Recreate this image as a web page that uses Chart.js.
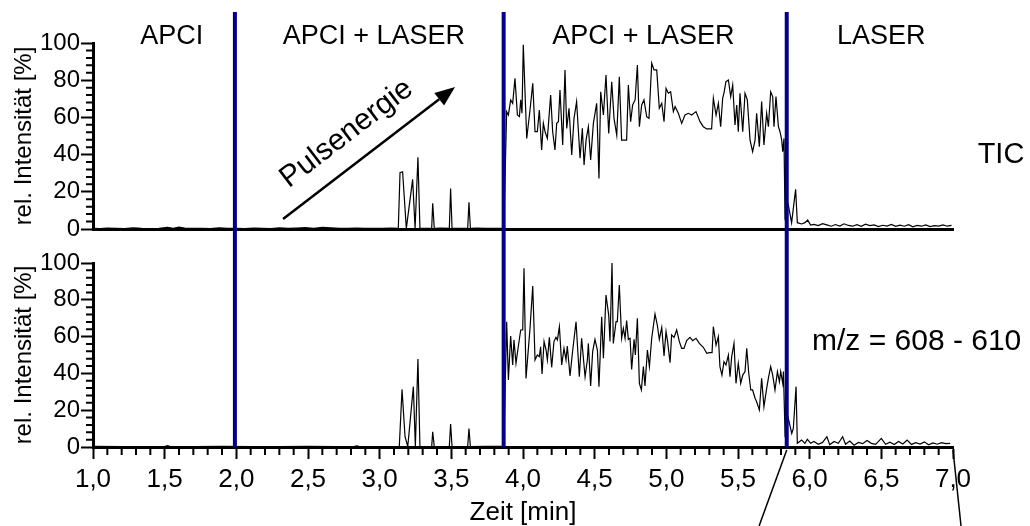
<!DOCTYPE html>
<html>
<head>
<meta charset="utf-8">
<script src="https://cdn.jsdelivr.net/npm/chart.js@4.4.1/dist/chart.umd.min.js"></script>
<style>
  html, body { margin: 0; padding: 0; background: #fff; overflow: hidden; }
  #wrap { position: relative; width: 1030px; height: 526px; }
  canvas { position: absolute; left: 0; }
  #tic { top: 0; }
  #mz { top: 246px; }
</style>
</head>
<body>
<div id="wrap">
  <canvas id="tic" width="1030" height="246"></canvas>
  <canvas id="mz" width="1030" height="280"></canvas>
</div>
<script>
// ---- Total ion current (TIC), retention time [min] and relative intensity [%]
const ticTime = [
  1.00,1.05,1.10,1.16,1.22,1.28,1.34,1.40,1.46,1.52,
  1.56,1.60,1.64,1.70,1.76,1.82,1.88,1.94,2.00,2.06,
  2.12,2.18,2.24,2.30,2.36,2.42,2.48,2.54,2.60,2.66,
  2.72,2.78,2.84,2.90,2.96,3.02,3.08,3.13,
  3.142,3.160,3.186,3.230,3.247,3.267,3.281,3.320,3.363,3.370,
  3.381,3.430,3.486,3.495,3.505,3.560,3.614,3.623,3.633,3.680,
  3.740,3.800,3.866,
  3.886,3.898,3.914,3.928,3.944,3.961,3.975,3.984,3.993,4.002,
  4.026,4.049,4.068,4.084,4.100,4.114,4.130,4.142,4.154,4.170,
  4.193,4.207,4.223,4.235,4.247,4.258,4.277,4.293,4.305,4.321,
  4.340,4.356,4.374,4.398,4.414,4.426,4.440,4.456,4.472,4.491,
  4.514,4.530,4.542,4.561,4.579,4.598,4.619,4.635,4.654,4.672,
  4.688,4.705,4.723,4.735,4.751,4.765,4.782,4.798,4.812,4.828,
  4.844,4.863,4.879,4.898,4.914,4.933,4.951,4.968,4.984,4.998,
  5.014,5.030,5.049,5.061,5.084,5.107,5.130,5.154,5.177,5.207,
  5.235,5.258,5.282,5.316,5.328,5.347,5.363,5.379,5.393,5.402,
  5.416,5.433,5.449,5.463,5.479,5.491,5.502,5.514,5.533,5.549,
  5.565,5.584,5.602,5.619,5.630,5.649,5.665,5.681,5.700,5.712,
  5.728,5.742,5.751,5.765,5.782,5.793,5.805,5.812,5.821,5.828,
  5.851,5.874,5.902,5.914,5.944,5.967,5.986,6.007,6.030,6.060,
  6.09,6.12,6.15,6.18,6.21,6.24,6.27,6.30,6.33,6.36,
  6.39,6.42,6.45,6.48,6.51,6.54,6.57,6.60,6.63,6.66,
  6.69,6.72,6.75,6.78,6.81,6.84,6.87,6.90,6.93,6.96,6.99
];
const ticIntensity = [
  0.4,0.2,0.5,0.3,0.2,0.6,0.3,0.2,0.3,0.9,
  0.4,1.0,0.5,0.3,0.4,0.2,0.6,0.3,0.3,0.2,
  0.5,0.3,0.2,0.6,0.3,0.5,0.8,0.4,0.9,0.6,
  0.4,0.3,0.5,0.3,0.4,0.3,0.5,0.3,
  30.3,30.8,0.3,26.7,0.3,38.5,0.3,0.4,0.3,13.8,
  0.3,0.5,0.3,21.8,0.3,0.4,0.3,14.3,0.3,0.5,
  0.3,0.4,0.4,
  63.1,61.3,69.4,67.6,81.0,61.3,60.4,69.4,62.2,99.0,
  48.7,64.0,78.3,52.3,52.3,64.0,42.5,56.8,52.3,48.7,
  72.0,52.3,42.5,56.8,57.7,74.7,45.2,85.5,54.1,64.9,
  39.8,59.5,68.5,38.0,54.1,34.4,47.8,55.0,37.1,56.8,
  67.6,27.2,73.8,61.3,82.8,51.4,79.2,59.5,50.5,81.9,
  47.8,47.8,47.8,77.4,57.7,66.7,69.4,88.2,55.0,66.7,
  69.4,60.4,59.5,89.1,85.5,85.5,64.9,67.6,57.7,75.6,
  73.0,73.8,63.1,65.8,62.2,56.8,61.3,62.2,61.3,63.1,
  57.7,55.0,53.8,53.8,70.3,61.3,67.6,55.0,70.3,73.0,
  79.2,80.1,71.2,77.4,55.9,66.7,52.3,73.0,52.3,73.0,
  69.4,47.8,41.6,47.8,62.2,44.3,68.5,45.2,62.2,55.0,
  73.8,71.2,55.0,71.2,55.0,52.3,47.8,41.6,48.7,6.6,
  12.9,3.4,21.3,3.4,2.7,3.4,4.8,2.1,2.5,1.8,
  2.9,2.2,1.5,2.4,1.6,2.8,1.9,1.5,2.3,1.4,
  2.6,1.8,2.2,1.3,2.0,1.6,2.5,1.4,2.1,1.5,
  2.3,1.2,1.9,1.5,2.2,1.3,1.8,1.6,2.2,1.5,1.9
];

// ---- Extracted ion trace m/z 608 - 610
const mzTime = [
  1.00,1.20,1.40,1.50,1.52,1.54,1.70,1.90,2.10,2.30,
  2.50,2.70,2.82,2.84,2.86,3.00,3.137,
  3.156,3.177,3.196,3.235,3.249,3.267,3.281,3.363,3.370,3.381,
  3.486,3.495,3.505,3.614,3.623,3.633,3.750,3.866,
  3.886,3.898,3.914,3.928,3.937,3.951,3.967,3.984,3.998,4.007,
  4.021,4.049,4.068,4.084,4.100,4.114,4.123,4.133,4.147,4.161,
  4.170,4.184,4.200,4.216,4.230,4.240,4.254,4.270,4.286,4.300,
  4.309,4.328,4.347,4.370,4.393,4.409,4.433,4.449,4.456,4.472,
  4.486,4.502,4.519,4.530,4.549,4.561,4.579,4.598,4.607,4.621,
  4.630,4.649,4.658,4.672,4.688,4.700,4.712,4.723,4.735,4.747,
  4.758,4.775,4.784,4.798,4.812,4.826,4.840,4.851,4.868,4.882,
  4.898,4.921,4.937,4.951,4.968,4.984,4.998,5.009,5.026,5.037,
  5.054,5.072,5.091,5.107,5.123,5.142,5.165,5.184,5.207,5.230,
  5.258,5.282,5.300,5.319,5.328,5.347,5.363,5.374,5.388,5.402,
  5.416,5.433,5.444,5.456,5.472,5.486,5.502,5.519,5.533,5.549,
  5.561,5.575,5.589,5.602,5.619,5.630,5.649,5.665,5.681,5.700,
  5.714,5.728,5.742,5.758,5.775,5.789,5.798,5.812,5.817,5.828,
  5.851,5.875,5.886,5.905,5.914,5.944,5.967,5.984,6.007,6.030,
  6.06,6.09,6.12,6.14,6.17,6.20,6.23,6.25,6.28,6.31,
  6.34,6.37,6.40,6.43,6.46,6.50,6.53,6.56,6.59,6.62,
  6.65,6.68,6.71,6.74,6.77,6.80,6.83,6.86,6.89,6.92,6.95,6.98
];
const mzIntensity = [
  0.3,0.2,0.2,0.2,0.8,0.2,0.2,0.3,0.2,0.2,
  0.3,0.2,0.2,0.6,0.2,0.2,0.2,
  31.3,5.6,0.2,32.8,0.2,47.8,0.2,0.2,8.3,0.2,
  0.2,12.5,0.2,0.2,10.0,0.2,0.3,0.3,
  68.1,36.4,60.3,44.6,58.2,45.5,54.5,63.6,63.6,97.1,
  37.3,64.5,87.5,47.3,50.0,49.1,54.5,39.7,57.3,52.7,
  47.3,59.6,43.3,57.3,59.6,58.2,65.4,44.6,53.6,47.3,
  54.9,38.6,52.7,68.1,38.2,59.1,38.2,47.3,56.3,33.2,
  51.8,58.5,52.7,32.8,70.8,48.2,82.6,71.7,57.3,100.0,
  56.3,68.1,68.1,88.0,59.1,64.5,59.1,68.7,58.5,59.1,
  42.2,58.5,50.0,69.9,34.6,31.0,43.7,33.2,52.7,43.7,
  59.1,72.3,66.3,58.5,65.0,49.5,62.7,57.3,45.8,60.9,
  59.6,63.6,57.3,53.6,53.6,57.8,59.6,57.8,59.1,56.3,
  54.2,50.9,51.3,51.3,65.4,55.4,60.0,43.7,39.1,46.4,
  44.6,50.0,38.2,49.1,56.3,34.6,45.5,34.6,39.1,41.0,
  53.6,40.1,31.0,31.0,26.5,24.6,20.1,37.3,21.9,31.9,
  38.2,43.7,39.1,31.0,41.0,35.5,41.0,34.6,41.0,7.4,
  15.6,7.4,10.1,32.8,2.0,3.8,2.0,4.2,2.0,3.0,
  1.5,2.5,5.6,1.2,3.0,2.0,5.6,1.5,3.2,1.0,
  2.5,1.8,3.5,2.0,1.4,4.7,1.5,2.6,1.3,3.0,
  1.6,3.8,1.4,2.4,1.6,2.8,1.2,2.2,1.5,2.4,1.8,2.0
];

// ---- Ionisation phases: boundaries [min], labels and label centres [min]
const phaseBoundaries = [1.99, 3.865, 5.84];
const phaseLabels = ['APCI', 'APCI + LASER', 'APCI + LASER', 'LASER'];
const phaseLabelCenters = [1.55, 2.96, 4.84, 6.50];

// Pulse energy arrow: [time, intensity] of start and tip (TIC panel)
const pulseArrowFrom = [2.326, 5.4];
const pulseArrowTo = [3.526, 76.3];

// Lines leading from the time axis to an enlarged view below: [axis time, lower time]
const insetLinks = [[5.84, 5.647], [7.0, 7.056]];

const FONT = "'Liberation Sans', Arial, Helvetica, sans-serif";
const BLUE = '#00008b';

function toPoints(xs, ys) { return xs.map((t, i) => ({ x: t, y: ys[i] })); }

function yAxis() {
  return {
    type: 'linear', min: 0, max: 100,
    ticks: { stepSize: 20, color: '#000', font: { family: FONT, size: 24 }, padding: 1 },
    grid: { drawOnChartArea: false, drawTicks: true, tickLength: 12, tickWidth: 2, tickColor: '#000', color: '#000' },
    border: { display: true, color: '#000', width: 3 },
    title: { display: true, text: 'rel. Intensität [%]', color: '#000',
             font: { family: FONT, size: 24 }, padding: { top: 10, bottom: 0 } },
    afterFit(s) { s.width = 93; }
  };
}

function drawMinorTicks(chart, withX) {
  const { ctx, scales: { x, y }, chartArea } = chart;
  ctx.save();
  ctx.strokeStyle = '#000';
  ctx.lineWidth = 2;
  ctx.beginPath();
  for (let v = 0; v <= 100; v += 4) {
    if (v % 20 === 0) continue;
    const py = y.getPixelForValue(v);
    ctx.moveTo(chartArea.left - 7, py);
    ctx.lineTo(chartArea.left, py);
  }
  if (withX) {
    for (let i = 10; i <= 70; i++) {
      if (i % 5 === 0) continue;
      const px = x.getPixelForValue(i / 10);
      ctx.moveTo(px, chartArea.bottom);
      ctx.lineTo(px, chartArea.bottom + 8);
    }
  }
  ctx.stroke();
  ctx.restore();
}

function drawBoundaries(chart, yTop, yBottom) {
  const { ctx, scales: { x } } = chart;
  ctx.save();
  ctx.strokeStyle = BLUE;
  ctx.lineWidth = 4;
  phaseBoundaries.forEach(t => {
    const px = x.getPixelForValue(t);
    ctx.beginPath();
    ctx.moveTo(px, yTop);
    ctx.lineTo(px, yBottom);
    ctx.stroke();
  });
  ctx.restore();
}

const ticDecor = {
  id: 'ticDecor',
  afterDraw(chart) {
    const { ctx, scales: { x, y } } = chart;
    drawMinorTicks(chart, false);
    drawBoundaries(chart, 12, chart.height);

    ctx.save();
    ctx.fillStyle = '#000';
    ctx.font = `27px ${FONT}`;
    ctx.textAlign = 'center';
    ctx.textBaseline = 'alphabetic';
    phaseLabels.forEach((lab, i) => ctx.fillText(lab, x.getPixelForValue(phaseLabelCenters[i]), 44));
    ctx.font = `29px ${FONT}`;
    ctx.fillText('TIC', 1001, 163);

    // pulse energy arrow
    const x0 = x.getPixelForValue(pulseArrowFrom[0]), y0 = y.getPixelForValue(pulseArrowFrom[1]);
    const x1 = x.getPixelForValue(pulseArrowTo[0]), y1 = y.getPixelForValue(pulseArrowTo[1]);
    const ang = Math.atan2(y1 - y0, x1 - x0);
    const head = 20, half = 8;
    const bx = x1 - head * Math.cos(ang), by = y1 - head * Math.sin(ang);
    ctx.strokeStyle = '#000';
    ctx.lineWidth = 2.5;
    ctx.beginPath();
    ctx.moveTo(x0, y0);
    ctx.lineTo(bx, by);
    ctx.stroke();
    ctx.beginPath();
    ctx.moveTo(x1, y1);
    ctx.lineTo(bx + half * Math.sin(ang), by - half * Math.cos(ang));
    ctx.lineTo(bx - half * Math.sin(ang), by + half * Math.cos(ang));
    ctx.closePath();
    ctx.fill();

    const mx = (x0 + x1) / 2, my = (y0 + y1) / 2;
    const off = 29;
    const cx = mx + off * Math.sin(ang) - 6 * Math.cos(ang), cy = my - off * Math.cos(ang) - 6 * Math.sin(ang);
    ctx.translate(cx, cy);
    ctx.rotate(ang);
    ctx.font = `30px ${FONT}`;
    ctx.textAlign = 'center';
    ctx.textBaseline = 'middle';
    ctx.fillText('Pulsenergie', 0, 0);
    ctx.restore();
  }
};

const mzDecor = {
  id: 'mzDecor',
  afterDraw(chart) {
    const { ctx, scales: { x, y } } = chart;
    drawMinorTicks(chart, true);
    drawBoundaries(chart, 0, y.getPixelForValue(0));

    ctx.save();
    ctx.fillStyle = '#000';
    ctx.font = `30px ${FONT}`;
    ctx.textAlign = 'left';
    ctx.textBaseline = 'alphabetic';
    ctx.fillText('m/z = 608 - 610', 812, 104);

    ctx.strokeStyle = '#000';
    ctx.lineWidth = 1.5;
    const yAx = y.getPixelForValue(0) + 3;
    insetLinks.forEach(([ta, tb]) => {
      ctx.beginPath();
      ctx.moveTo(x.getPixelForValue(ta), yAx);
      ctx.lineTo(x.getPixelForValue(tb), chart.height);
      ctx.stroke();
    });
    ctx.restore();
  }
};

const lineStyle = { borderColor: '#000', borderWidth: 1.2, pointRadius: 0, tension: 0, fill: false };

new Chart(document.getElementById('tic'), {
  type: 'line',
  data: { datasets: [{ label: 'TIC', data: toPoints(ticTime, ticIntensity), ...lineStyle }] },
  options: {
    responsive: false, animation: false, events: [],
    layout: { padding: { left: 0, right: 77, top: 43, bottom: 17 } },
    plugins: { legend: { display: false }, tooltip: { enabled: false } },
    scales: {
      x: {
        type: 'linear', min: 1, max: 7,
        ticks: { display: false, stepSize: 0.5 },
        grid: { drawOnChartArea: false, drawTicks: false },
        border: { display: true, color: '#000', width: 3 },
        afterFit(s) { s.height = 0; }
      },
      y: yAxis()
    }
  },
  plugins: [ticDecor]
});

new Chart(document.getElementById('mz'), {
  type: 'line',
  data: { datasets: [{ label: 'm/z = 608 - 610', data: toPoints(mzTime, mzIntensity), ...lineStyle }] },
  options: {
    responsive: false, animation: false, events: [],
    layout: { padding: { left: 0, right: 77, top: 17, bottom: 0 } },
    plugins: { legend: { display: false }, tooltip: { enabled: false } },
    scales: {
      x: {
        type: 'linear', min: 1, max: 7,
        ticks: { stepSize: 0.5, autoSkip: false, maxRotation: 0, color: '#000', padding: 5,
                 font: { family: FONT, size: 26 },
                 callback: v => Number(v).toFixed(1).replace('.', ',') },
        grid: { drawOnChartArea: false, drawTicks: true, tickLength: 12, tickWidth: 2, tickColor: '#000', color: '#000' },
        border: { display: true, color: '#000', width: 3 },
        title: { display: true, text: 'Zeit [min]', color: '#000',
                 font: { family: FONT, size: 26, lineHeight: 1 }, padding: { top: 0, bottom: 0 } },
        afterFit(s) { s.height = 79; }
      },
      y: yAxis()
    }
  },
  plugins: [mzDecor]
});
</script>
</body>
</html>
